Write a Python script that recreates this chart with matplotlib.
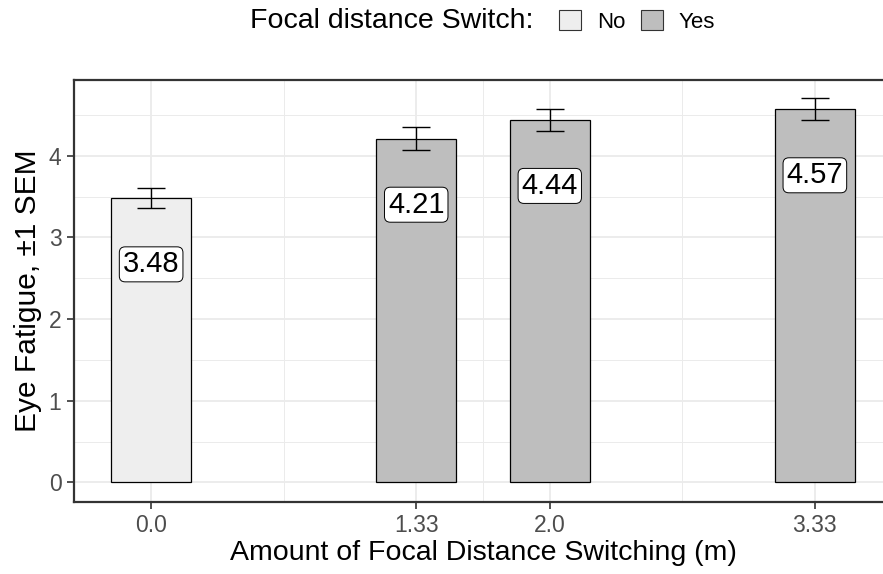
import numpy as np
import matplotlib.pyplot as plt
from matplotlib.patches import Patch

plt.rcParams['font.family'] = ['Liberation Sans', 'DejaVu Sans']

# data
switch_amount = [0.0, 1.33, 2.0, 3.33]
fatigue_mean = [3.48, 4.21, 4.44, 4.57]
fatigue_sem = [0.12, 0.14, 0.135, 0.135]
switched = ["No", "Yes", "Yes", "Yes"]
tick_labels = ["0.0", "1.33", "2.0", "3.33"]

fill = {"No": "#EEEEEE", "Yes": "#BEBEBE"}

fig = plt.figure(figsize=(8.83, 5.74), dpi=100)
ax = fig.add_axes([74/883, (574-501.7)/574, (892-74)/883, (501.7-79.7)/574])

# bars
for x, m, s in zip(switch_amount, fatigue_mean, switched):
    ax.bar(x, m, width=0.4, color=fill[s], edgecolor="black", linewidth=0.9, zorder=3)

ax.errorbar(switch_amount, fatigue_mean, yerr=fatigue_sem, fmt="none",
            ecolor="black", elinewidth=1.0, capsize=10, capthick=1.0, zorder=4)

for x, m in zip(switch_amount, fatigue_mean):
    ax.text(x, m - 0.81, "%.2f" % m, ha="center", va="center", fontsize=21, zorder=5,
            bbox=dict(boxstyle="round,pad=0.12,rounding_size=0.2", fc="white",
                      ec="black", lw=0.7))

ax.set_xlim(-0.387, 3.717)
ax.set_ylim(-0.235, 4.93)

ax.set_xticks(switch_amount)
ax.set_xticklabels(tick_labels)
ax.set_xticks([0.665, 1.665, 2.665], minor=True)
ax.set_yticks([0, 1, 2, 3, 4])
ax.set_yticks([0.5, 1.5, 2.5, 3.5, 4.5], minor=True)

ax.grid(which="major", color="#EBEBEB", linewidth=1.3, zorder=0)
ax.grid(which="minor", color="#EBEBEB", linewidth=0.7, zorder=0)
ax.set_axisbelow(True)

ax.tick_params(which="major", length=5, width=1.2, color="#333333",
               labelsize=16.5, labelcolor="#4D4D4D", pad=4)
ax.tick_params(which="minor", length=0)
for sp in ax.spines.values():
    sp.set_color("#333333")
    sp.set_linewidth(1.6)

ax.set_xlabel("Amount of Focal Distance Switching (m)", fontsize=20.5, labelpad=2)
ax.set_ylabel("Eye Fatigue, \u00b11 SEM", fontsize=21.5, labelpad=5)

# legend on top
fig.text(533/883, 1 - 21.5/574, "Focal distance Switch:", fontsize=20.5, ha="right", va="center")
handles = [Patch(facecolor=fill["No"], edgecolor="#333333", linewidth=0.8, label="No"),
           Patch(facecolor=fill["Yes"], edgecolor="#333333", linewidth=0.8, label="Yes")]
fig.legend(handles=handles, loc="center left", bbox_to_anchor=(559/883, 1 - 21.5/574),
           ncol=2, frameon=False, fontsize=16, handlelength=1.0, handleheight=1.0,
           handletextpad=0.72, columnspacing=0.68, borderaxespad=0, borderpad=0)

fig.savefig("out.png", dpi=100)
